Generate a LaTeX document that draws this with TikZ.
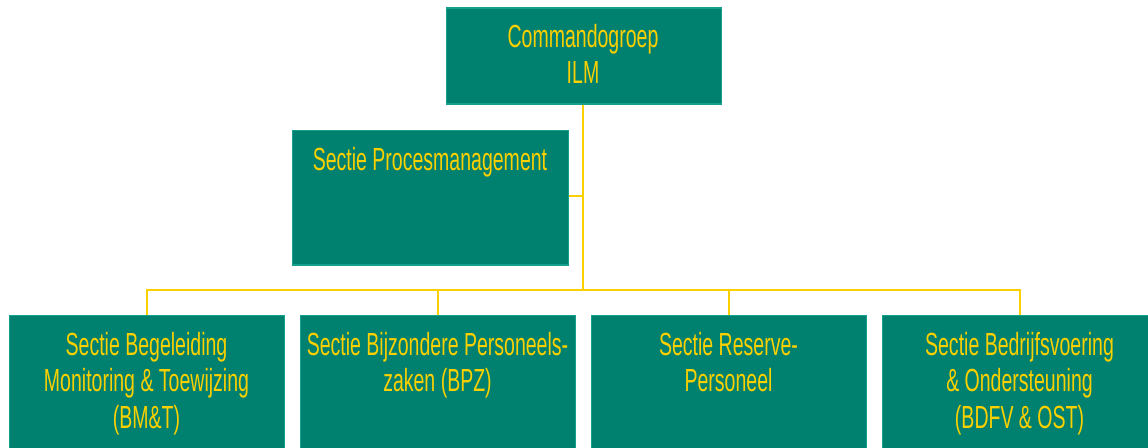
\documentclass[tikz,border=0pt]{standalone}
\usepackage{fontspec}
\setmainfont{Liberation Sans}[FakeStretch=0.61]
\definecolor{boxfill}{RGB}{0,128,110}
\definecolor{boxedge}{RGB}{20,160,140}
\definecolor{gold}{RGB}{250,208,0}
\begin{document}
\begin{tikzpicture}[x=1pt,y=-1pt,
  unit/.style={draw=boxedge, line width=1.2pt, fill=boxfill, rectangle,
    inner sep=0pt, anchor=north west, minimum width=#1, minimum height=#1},
  unitbox/.style 2 args={draw=boxedge, line width=1.2pt, fill=boxfill, rectangle,
    inner sep=0pt, anchor=north west, minimum width=#1, minimum height=#2},
  caption/.style={text=gold, anchor=north, align=center, inner sep=0pt,
    font=\fontsize{32}{36.5}\selectfont},
  link/.style={draw=gold, line width=2pt}]
\useasboundingbox (0,0) rectangle (1148,447);
\begin{scope}
\clip (0,0) rectangle (1148,447);
% head of the organisation
\node[unitbox={275pt}{96pt}] (cg) at (445.7,7.3) {};
\node[caption] (cgt) at (583,24) {Commandogroep\\ILM};
% staff section
\node[unitbox={276pt}{134.6pt}] (pm) at (291.7,129.7) {};
\node[caption] (pmt) at (430,147.5) {Sectie Procesmanagement};
% sections
\node[unitbox={275pt}{150pt}] (s1) at (9,315) {};
\node[unitbox={275pt}{150pt}] (s2) at (300,315) {};
\node[unitbox={275pt}{150pt}] (s3) at (591,315) {};
\node[unitbox={275pt}{150pt}] (s4) at (882,315) {};
\node[caption] (s1t) at (146.5,332) {Sectie Begeleiding\\Monitoring \& Toewijzing\\(BM\&T)};
\node[caption] (s2t) at (437.5,332) {Sectie Bijzondere Personeels-\\zaken (BPZ)};
\node[caption] (s3t) at (728.5,332) {Sectie Reserve-\\Personeel};
\node[caption] (s4t) at (1019.5,332) {Sectie Bedrijfsvoering\\\& Ondersteuning\\(BDFV \& OST)};
% connectors
\coordinate (trunk) at (583,290);
\coordinate (pmjoin) at (583,196);
\draw[link] (cg.south -| trunk) -- (trunk);
\draw[link] (pm.east |- pmjoin) -- (pmjoin);
\draw[link] (s1.north) |- (trunk);
\draw[link] (s2.north) |- (trunk);
\draw[link] (s3.north) |- (trunk);
\draw[link] (s4.north) |- (trunk);
\end{scope}
\end{tikzpicture}
\end{document}
